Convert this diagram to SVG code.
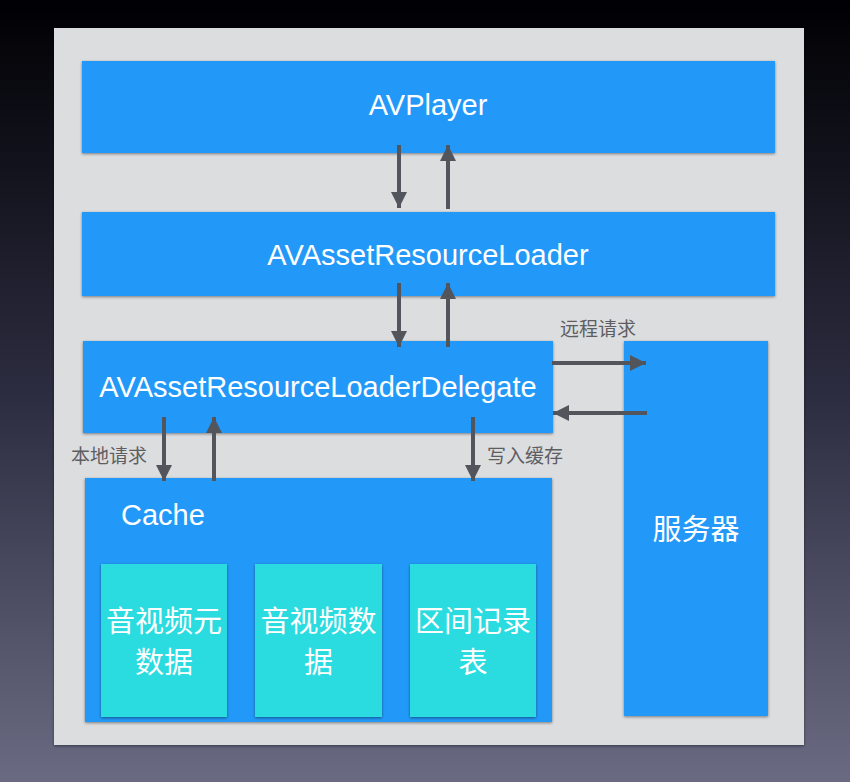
<svg xmlns="http://www.w3.org/2000/svg" width="850" height="782" viewBox="0 0 850 782">
<defs>
<linearGradient id="bg" x1="0" y1="0" x2="0" y2="1">
<stop offset="0" stop-color="#000003"/>
<stop offset="0.5" stop-color="#2c2c40"/>
<stop offset="1" stop-color="#6a6b82"/>
</linearGradient>
<filter id="sh" x="-5%" y="-5%" width="110%" height="115%">
<feDropShadow dx="0" dy="1" stdDeviation="1.5" flood-color="#000" flood-opacity="0.45"/>
</filter>
<marker id="ah" viewBox="0 0 10 10" refX="10" refY="5" markerWidth="4" markerHeight="4" orient="auto" markerUnits="strokeWidth">
<path d="M0,0 L10,5 L0,10 Z" fill="#52565c"/>
</marker>
<style>
.box{fill:#2399f8;filter:url(#sh)}
.sub{fill:#2cdbe0;filter:url(#sh)}
.t{font-family:"Liberation Sans","Noto Sans CJK SC",sans-serif;font-size:29px;fill:#ffffff}
.c{font-family:"Liberation Sans","Noto Sans CJK SC",sans-serif;font-size:19px;fill:#5e5e62}
.a{stroke:#52565c;stroke-width:4;fill:none;marker-end:url(#ah)}
</style>
</defs>
<rect x="0" y="0" width="850" height="782" fill="url(#bg)"/>
<rect x="54" y="28" width="750" height="717" fill="#dcdddf" filter="url(#sh)"/>

<g id="avplayer">
<rect class="box" x="82" y="61" width="693" height="92"/>
<text class="t" x="428" y="115" text-anchor="middle">AVPlayer</text>
</g>
<g id="loader">
<rect class="box" x="82" y="212" width="693" height="84"/>
<text class="t" x="428" y="265" text-anchor="middle">AVAssetResourceLoader</text>
</g>
<g id="delegate">
<rect class="box" x="83" y="341" width="470" height="92"/>
<text class="t" x="318" y="397" text-anchor="middle">AVAssetResourceLoaderDelegate</text>
</g>
<g id="server">
<rect class="box" x="624" y="341" width="144" height="375"/>
<text class="t" x="696" y="540" text-anchor="middle">服务器</text>
</g>
<g id="cache">
<rect class="box" x="85" y="478" width="467" height="244"/>
<text class="t" x="121" y="525">Cache</text>
</g>
<g id="meta">
<rect class="sub" x="101" y="564" width="126" height="153"/>
<text class="t" x="164" y="632" text-anchor="middle">音视频元</text>
<text class="t" x="164" y="673" text-anchor="middle">数据</text>
</g>
<g id="data">
<rect class="sub" x="255" y="564" width="127" height="153"/>
<text class="t" x="318.5" y="632" text-anchor="middle">音视频数</text>
<text class="t" x="318.5" y="673" text-anchor="middle">据</text>
</g>
<g id="ranges">
<rect class="sub" x="410" y="564" width="126" height="153"/>
<text class="t" x="473" y="632" text-anchor="middle">区间记录</text>
<text class="t" x="473" y="673" text-anchor="middle">表</text>
</g>

<g id="connectors">
<line class="a" x1="399" y1="145" x2="399" y2="208"/>
<line class="a" x1="448" y1="209" x2="448" y2="145"/>
<line class="a" x1="399" y1="283" x2="399" y2="347"/>
<line class="a" x1="448" y1="347" x2="448" y2="283"/>
<line class="a" x1="552" y1="363" x2="646" y2="363"/>
<line class="a" x1="647" y1="413" x2="553" y2="413"/>
<line class="a" x1="164" y1="417" x2="164" y2="481"/>
<line class="a" x1="214" y1="481" x2="214" y2="417"/>
<line class="a" x1="473" y1="417" x2="473" y2="481"/>
<text class="c" x="560" y="336">远程请求</text>
<text class="c" x="71" y="463">本地请求</text>
<text class="c" x="487" y="463">写入缓存</text>
</g>
</svg>
